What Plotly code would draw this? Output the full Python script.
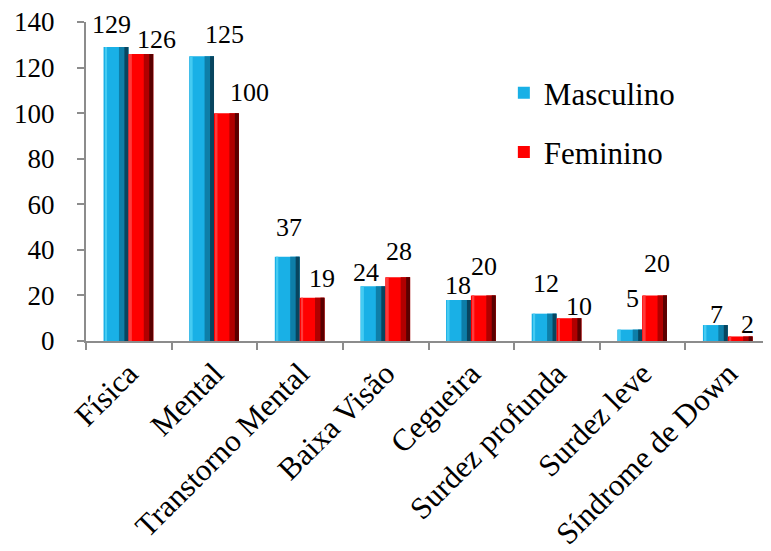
import plotly.graph_objects as go

categories = ["Física", "Mental", "Transtorno Mental", "Baixa Visão", "Cegueira",
              "Surdez profunda", "Surdez leve", "Síndrome de Down"]
masculino = [129, 125, 37, 24, 18, 12, 5, 7]
feminino = [126, 100, 19, 28, 20, 10, 20, 2]
y_ticks = [0, 20, 40, 60, 80, 100, 120, 140]

# label placement tweaks (pixels) relative to bar top-centre, as in the reference
masc_dx = [-4, 23, 2, -7, 0, 2, 3, 1]
masc_dy = [23, 22, 29, 14, 14, 30, 31, 11]
fem_dx = [16, 23, 10, 1, 1, 10, 2, 7]
fem_dy = [14, 21, 19, 26, 29, 12, 32, 12]

FONT = "Liberation Serif"
W = 0.29  # bar width in category units

fig = go.Figure()


def add_series(values, name, offset, colors):
    light, base, mid, dark = colors
    fig.add_trace(go.Bar(
        x=categories, y=values, name=name, offset=offset, width=W,
        marker=dict(color=base, line=dict(width=0)), showlegend=True,
        legendgroup=name,
    ))
    fig.add_trace(go.Bar(
        x=categories, y=values, offset=offset + W * 0.06, width=W * 0.08,
        marker=dict(color=light, line=dict(width=0)), showlegend=False,
        legendgroup=name, hoverinfo="skip",
    ))
    fig.add_trace(go.Bar(
        x=categories, y=values, offset=offset + W * 0.62, width=W * 0.38,
        marker=dict(color=mid, line=dict(width=0)), showlegend=False,
        legendgroup=name, hoverinfo="skip",
    ))
    fig.add_trace(go.Bar(
        x=categories, y=values, offset=offset + W * 0.84, width=W * 0.16,
        marker=dict(color=dark, line=dict(width=0)), showlegend=False,
        legendgroup=name, hoverinfo="skip",
    ))


add_series(masculino, "Masculino", -0.295, ("#45CBF2", "#19B0E6", "#0E7EA8", "#08455F"))
add_series(feminino, "Feminino", -0.005, ("#FF3A3A", "#FF0000", "#B00000", "#5A0000"))

annotations = []
for cat, v, dx, dy in zip(categories, masculino, masc_dx, masc_dy):
    annotations.append(dict(x=cat, y=v, text=str(v), showarrow=False,
                            xshift=-13 + dx, yshift=dy, yanchor="middle",
                            font=dict(family=FONT, size=26, color="black")))
for cat, v, dx, dy in zip(categories, feminino, fem_dx, fem_dy):
    annotations.append(dict(x=cat, y=v, text=str(v), showarrow=False,
                            xshift=12 + dx, yshift=dy, yanchor="middle",
                            font=dict(family=FONT, size=26, color="black")))

fig.update_layout(
    width=763, height=543,
    margin=dict(l=78, r=0, t=14, b=210, autoexpand=False),
    paper_bgcolor="white", plot_bgcolor="white",
    barmode="overlay",
    font=dict(family=FONT, size=26, color="black"),
    showlegend=True,
    annotations=annotations,
    legend=dict(x=0.61, y=0.862, xanchor="left", yanchor="top",
                font=dict(family=FONT, size=31, color="black"),
                tracegroupgap=16, bgcolor="rgba(0,0,0,0)",
                itemwidth=30),
    xaxis=dict(
        tickangle=-45, showline=True, linecolor="#8C8C8C", linewidth=2,
        ticks="outside", tickson="boundaries", ticklen=7, tickcolor="#8C8C8C", tickwidth=2,
        showgrid=False, automargin=False,
        tickfont=dict(family=FONT, size=31, color="black"),
    ),
    yaxis=dict(
        range=[0, 140.01], tickmode="array", tickvals=y_ticks,
        ticktext=[str(t) for t in y_ticks], showline=True, linecolor="#8C8C8C", linewidth=2,
        ticks="outside", ticklen=7, tickcolor="#8C8C8C", tickwidth=2,
        showgrid=False, zeroline=False, automargin=False, ticklabelstandoff=17,
        ticklabeloverflow="allow",
        tickfont=dict(family=FONT, size=27, color="black"),
    ),
)

fig.write_html("out.html")
